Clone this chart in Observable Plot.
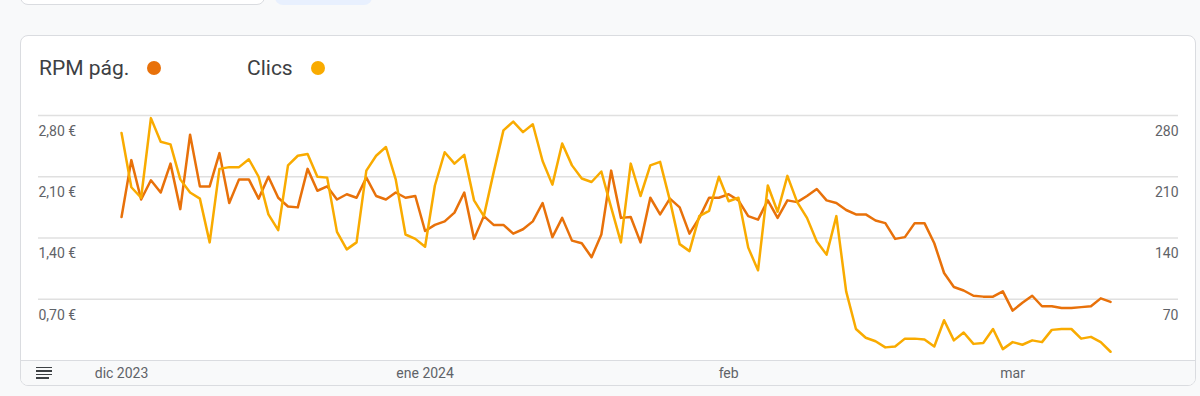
<!DOCTYPE html>
<html>
<head>
<meta charset="utf-8">
<script src="https://cdn.jsdelivr.net/npm/d3@7"></script>
<script src="https://cdn.jsdelivr.net/npm/@observablehq/plot@0.6"></script>
<style>
html, body { margin: 0; padding: 0; width: 1200px; height: 396px; overflow: hidden; background: #f8f9fa; font-family: Roboto, "Noto Sans", sans-serif; }
#wrap { position: relative; width: 1200px; height: 396px; }
.topbox1 { position: absolute; left: 20px; top: -20px; width: 245px; height: 25px; box-sizing: border-box; background: #fff; border: 1px solid #dadce0; border-radius: 8px; }
.topbox2 { position: absolute; left: 275px; top: -20px; width: 97px; height: 25px; background: #e8f0fe; border-radius: 8px; }
.card { position: absolute; left: 20px; top: 35px; width: 1176px; height: 351px; box-sizing: border-box; background: #fff; border: 1px solid #dadce0; border-radius: 8px; overflow: hidden; }
.band { position: absolute; left: 0; right: 0; top: 324px; bottom: 0; background: #f8f9fa; border-top: 1px solid #dadce0; }
.legend { position: absolute; top: 58px; font-size: 21px; line-height: 21px; color: #3c4043; white-space: nowrap; }
.dot { position: absolute; width: 14px; height: 14px; border-radius: 50%; }
.ham { position: absolute; left: 36px; height: 1.6px; background: #3c4043; }
#chart { position: absolute; left: 0; top: 0; }
</style>
</head>
<body>
<div id="wrap">
  <div class="topbox1"></div>
  <div class="topbox2"></div>
  <div class="card"><div class="band"></div></div>
  <div class="legend" style="left:39px">RPM pág.</div>
  <div class="dot" style="left:147px; top:61px; background:#e8710a"></div>
  <div class="legend" style="left:247px">Clics</div>
  <div class="dot" style="left:311px; top:61px; background:#f9ab00"></div>
  <div class="ham" style="top:366.5px; width:16px"></div>
  <div class="ham" style="top:370px; width:16px"></div>
  <div class="ham" style="top:373.5px; width:16px"></div>
  <div class="ham" style="top:377px; width:13px"></div>
  <div id="chart"></div>
</div>
<script>
// Series: daily values from 1 Dec 2023 to 11 Mar 2024
const startDay = Date.UTC(2023, 11, 1);
const rpm = [
  1.64, 2.29, 1.84, 2.06, 1.92, 2.25, 1.73, 2.58, 1.99, 1.99,
  2.37, 1.80, 2.07, 2.07, 1.85, 2.10, 1.86, 1.76, 1.75, 2.19,
  1.94, 1.99, 1.84, 1.90, 1.86, 2.09, 1.88, 1.84, 1.92, 1.86,
  1.88, 1.48, 1.55, 1.59, 1.69, 1.92, 1.39, 1.65, 1.55, 1.55,
  1.45, 1.50, 1.59, 1.80, 1.41, 1.63, 1.37, 1.34, 1.18, 1.44,
  2.17, 1.63, 1.64, 1.35, 1.86, 1.67, 1.85, 1.75, 1.45, 1.63,
  1.86, 1.86, 1.90, 1.83, 1.65, 1.61, 1.83, 1.63, 1.83, 1.81,
  1.88, 1.96, 1.83, 1.80, 1.72, 1.67, 1.67, 1.60, 1.57, 1.39,
  1.41, 1.57, 1.57, 1.34, 1.00, 0.84, 0.80, 0.74, 0.73, 0.73,
  0.79, 0.57, 0.66, 0.74, 0.62, 0.62, 0.60, 0.60, 0.61, 0.62,
  0.71, 0.67
];
const clics = [
  260, 198, 186, 277, 250, 247, 207, 192, 185, 135,
  219, 221, 221, 230, 210, 167, 149, 223, 234, 236,
  210, 209, 147, 127, 135, 217, 234, 244, 207, 144,
  139, 130, 200, 238, 225, 235, 183, 165, 215, 263,
  273, 261, 270, 228, 201, 248, 223, 208, 204, 216,
  175, 135, 225, 188, 223, 227, 183, 133, 125, 165,
  171, 210, 182, 186, 129, 103, 200, 170, 211, 181,
  163, 136, 121, 165, 79, 36, 26, 22, 15, 16,
  25, 25, 24, 16, 46, 23, 32, 19, 20, 36,
  13, 21, 18, 23, 21, 35, 36, 36, 25, 27,
  21, 10
];
const rpmTicks = [0.7, 1.4, 2.1, 2.8];
const rpmTickLabels = ["0,70 €", "1,40 €", "2,10 €", "2,80 €"];
const clickTicks = [70, 140, 210, 280];
const monthTicks = [Date.UTC(2023, 11, 1), Date.UTC(2024, 0, 1), Date.UTC(2024, 1, 1), Date.UTC(2024, 2, 1)];
const monthLabels = ["dic 2023", "ene 2024", "feb", "mar"];

const DAY = 86400000;
const clickToRpm = rpmTicks[3] / clickTicks[3];
const data = rpm.map((v, i) => ({date: new Date(startDay + i * DAY), rpm: v, clics: clics[i]}));
const months = monthTicks.map((t, i) => ({date: new Date(t), label: monthLabels[i]}));

const font = "Roboto, 'Noto Sans', sans-serif";
const chart = Plot.plot({
  width: 1200,
  height: 396,
  marginTop: 115,
  marginBottom: 36,
  marginLeft: 38,
  marginRight: 22,
  style: {background: "transparent", fontFamily: font, overflow: "visible"},
  x: {type: "utc", domain: [new Date(startDay - 8.48 * DAY), new Date(startDay + 107.94 * DAY)], axis: null},
  y: {domain: [0, 2.8], axis: null},
  marks: [
    Plot.ruleY(rpmTicks, {y: d => d, stroke: "#e0e0e0", strokeWidth: 1.5}),
    Plot.text(rpmTicks, {y: d => d, text: (d, i) => rpmTickLabels[i], frameAnchor: "left", textAnchor: "start", dy: 16, fontSize: 14, fill: "#5f6368"}),
    Plot.text(clickTicks, {y: d => d * clickToRpm, text: d => String(d), frameAnchor: "right", textAnchor: "end", dy: 16, fontSize: 14, fill: "#5f6368"}),
    Plot.line(data, {x: "date", y: "rpm", stroke: "#e8710a", strokeWidth: 2.5}),
    Plot.line(data, {x: "date", y: d => d.clics * clickToRpm, stroke: "#f9ab00", strokeWidth: 2.5}),
    Plot.text(months, {x: "date", y: 0, text: "label", dy: 13, fontSize: 14, fill: "#5f6368"})
  ]
});
document.getElementById("chart").appendChild(chart);
</script>
</body>
</html>
